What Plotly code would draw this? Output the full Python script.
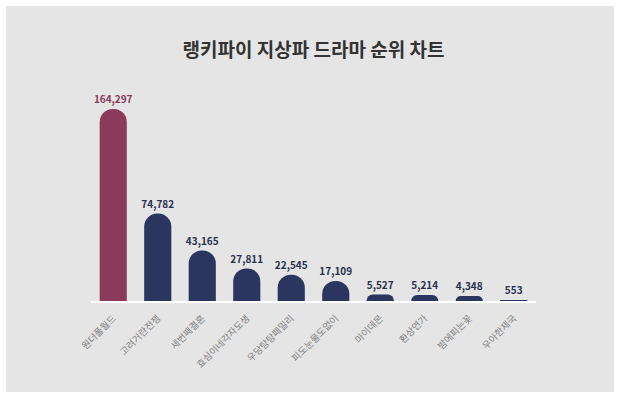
import plotly.graph_objects as go

categories = ["원더풀월드", "고려거란전쟁", "세번째결혼", "효심이네각자도생", "우당탕탕패밀리",
              "피도눈물도없이", "마이데몬", "환상연가", "밤에피는꽃", "우아한제국"]
values = [164297, 74782, 43165, 27811, 22545, 17109, 5527, 5214, 4348, 553]
title_text = "랭키파이 지상파 드라마 순위 차트"

maroon = "#8b3a5c"
navy = "#2a365f"
bar_colors = [maroon] + [navy] * (len(values) - 1)
text_colors = [maroon] + ["#27304f"] * (len(values) - 1)

FONT = "Noto Sans CJK KR"

W, H = 620, 399
ml, mr, mt, mb = 91, 84, 100, 98
pw, ph = W - ml - mr, H - mt - mb

def px_x(x):
    return (x - ml) / pw

def px_y(y):
    return (H - mb - y) / ph

fig = go.Figure(go.Bar(
    x=categories, y=values,
    marker=dict(color=bar_colors, cornerradius=14, line=dict(width=0)),
    texttemplate="<b>%{y:,}</b>", textposition="outside", constraintext="none",
    textfont=dict(family=FONT, size=10, color=text_colors),
    cliponaxis=False, hoverinfo="skip",
))

fig.update_layout(
    width=W, height=H,
    margin=dict(l=ml, r=mr, t=mt, b=mb, autoexpand=False),
    paper_bgcolor="white", plot_bgcolor="rgba(0,0,0,0)",
    bargap=0.39, showlegend=False,
    font=dict(family=FONT),
    title=dict(text="<b>" + title_text + "</b>", x=0.5, xref="paper",
               xanchor="center", y=1 - 50 / H, yanchor="middle",
               font=dict(family=FONT, size=19, color="#333333")),
    shapes=[dict(type="rect", xref="paper", yref="paper",
                 x0=px_x(6), x1=px_x(614), y0=px_y(392), y1=px_y(6),
                 fillcolor="#e5e5e5", line=dict(width=0), layer="below")],
)
fig.update_xaxes(showline=True, linecolor="white", linewidth=2, showgrid=False,
                 tickangle=-45, ticks="", ticklabelstandoff=6,
                 tickfont=dict(family=FONT, size=9.5, color="#7f7f7f"),
                 fixedrange=True)
fig.update_yaxes(visible=False, range=[0, 164297 * ph / 192], showgrid=False, fixedrange=True)

fig.write_html("out.html", config={"displayModeBar": False},
               post_script="document.body.style.margin='0';document.body.style.padding='0';")
